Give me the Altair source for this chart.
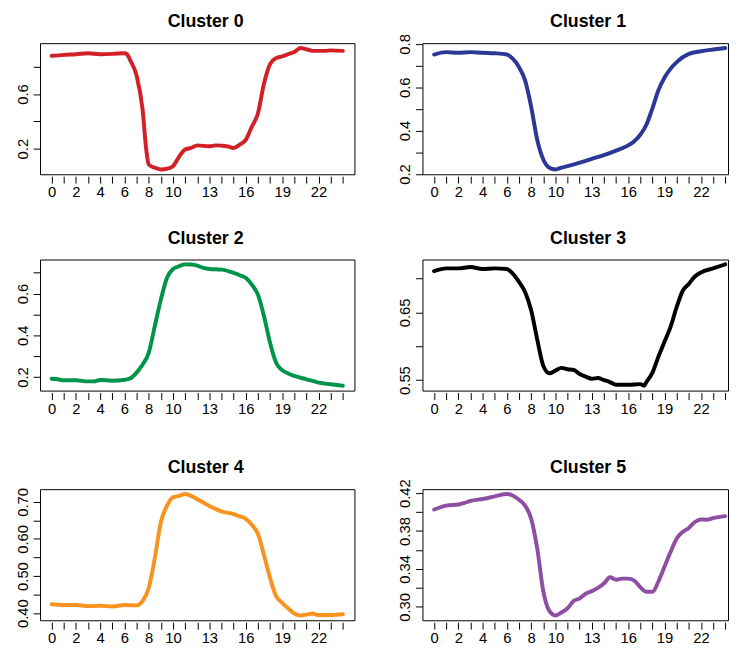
import altair as alt
import pandas as pd

titles = ["Cluster 0", "Cluster 1", "Cluster 2", "Cluster 3", "Cluster 4", "Cluster 5"]
colors = ["#D22027", "#2B3895", "#00934A", "#000000", "#F7931E", "#8E4FA3"]

c0_hours = [0, 1, 2, 3, 4, 5, 6, 6.2, 6.5, 7, 7.5, 7.8, 8, 8.5, 9, 9.5, 10, 10.5, 11, 11.5, 12,
            13, 13.5, 14, 14.5, 15, 15.5, 16, 16.5, 17, 17.5, 18, 18.5, 19, 19.5, 20,
            20.5, 21, 21.5, 22, 22.5, 23, 24]
c0_vals = [0.880, 0.887, 0.892, 0.899, 0.892, 0.894, 0.899, 0.892, 0.843, 0.735, 0.482, 0.19,
           0.084, 0.06, 0.048, 0.053, 0.072, 0.140, 0.193, 0.205, 0.224,
           0.217, 0.224, 0.222, 0.217, 0.205, 0.229, 0.265, 0.361, 0.458, 0.675, 0.819, 0.863,
           0.875, 0.892, 0.908, 0.937, 0.928, 0.916, 0.916, 0.916, 0.920, 0.916]

c1_hours = [0, 1, 2, 3, 4, 5, 6, 6.5, 7, 7.5, 8, 8.5, 9, 9.5, 10, 10.5, 11, 12, 13, 14, 15, 16,
            16.5, 17, 17.5, 18, 18.5, 19, 19.5, 20, 21, 22, 23, 24]
c1_vals = [0.751, 0.762, 0.759, 0.762, 0.759, 0.757, 0.751, 0.731, 0.693, 0.632, 0.511, 0.358,
           0.267, 0.229, 0.221, 0.229, 0.236, 0.252, 0.270, 0.287, 0.308, 0.332,
           0.351, 0.381, 0.427, 0.503, 0.587, 0.645, 0.686, 0.716, 0.754, 0.766, 0.774, 0.781]

c2_hours = [0, 0.5, 1, 2, 3, 3.5, 4, 5, 6, 6.5, 7, 7.5, 8, 8.5, 9, 9.5, 10, 10.5, 11, 11.5, 12,
            12.5, 13, 14, 15, 15.5, 16, 16.5, 17, 17.5, 18, 18.5, 19, 19.5, 20, 21, 22, 23, 24]
c2_vals = [0.192, 0.189, 0.184, 0.184, 0.179, 0.179, 0.186, 0.182, 0.186, 0.194, 0.221, 0.260,
           0.316, 0.444, 0.571, 0.675, 0.718, 0.731, 0.740, 0.739, 0.734, 0.723, 0.718,
           0.715, 0.699, 0.688, 0.675, 0.643, 0.595, 0.492, 0.364, 0.268, 0.233, 0.217, 0.205,
           0.189, 0.173, 0.165, 0.158]

c3_hours = [0, 1, 2, 3, 4, 5, 6, 6.5, 7, 7.5, 8, 8.5, 9, 9.5, 10, 10.5, 11, 11.5, 12, 12.5, 13,
            13.5, 14, 14.5, 15, 16, 17, 17.3, 17.5, 18, 18.5, 19, 19.5, 20, 20.5, 21, 21.5, 22,
            23, 24]
c3_vals = [0.711, 0.715, 0.715, 0.717, 0.714, 0.715, 0.714, 0.707, 0.695, 0.680, 0.653, 0.610,
           0.571, 0.560, 0.564, 0.568, 0.566, 0.565, 0.559, 0.555, 0.552, 0.553, 0.550, 0.547,
           0.543, 0.543, 0.544, 0.5416, 0.547, 0.561, 0.585, 0.607, 0.629, 0.658, 0.682, 0.692,
           0.703, 0.709, 0.715, 0.7209]

c4_hours = [0, 1, 2, 3, 4, 5, 6, 7, 7.5, 8, 8.5, 9, 9.5, 10, 10.5, 11, 11.5, 12, 12.5, 13, 13.5,
            14, 15, 15.5, 16, 16.5, 17, 17.5, 18, 18.5, 19, 19.5, 20, 20.5, 21, 21.5, 22, 23, 24]
c4_vals = [0.424, 0.422, 0.422, 0.419, 0.420, 0.418, 0.422, 0.421, 0.433, 0.468, 0.548, 0.645,
           0.689, 0.712, 0.716, 0.721, 0.716, 0.707, 0.698, 0.689, 0.681, 0.674, 0.667, 0.661,
           0.654, 0.638, 0.614, 0.557, 0.495, 0.446, 0.428, 0.413, 0.399, 0.394, 0.396, 0.399,
           0.395, 0.395, 0.397]

c5_hours = [0, 0.5, 1, 2, 2.5, 3, 4, 5, 6, 6.5, 7, 7.5, 8, 8.5, 9, 9.5, 10, 10.5, 11, 11.5, 12,
            12.5, 13, 13.5, 14, 14.5, 15, 15.5, 16, 16.5, 17, 17.5, 18, 18.5, 19, 19.5, 20, 20.5,
            21, 21.5, 22, 22.5, 23, 24]
c5_vals = [0.4027, 0.405, 0.4068, 0.408, 0.4096, 0.4117, 0.4138, 0.4165, 0.419, 0.4172, 0.413,
           0.4068, 0.393, 0.3617, 0.3166, 0.2958, 0.291, 0.294, 0.2986, 0.3062, 0.309, 0.3138,
           0.3166, 0.320, 0.3246, 0.3312, 0.3287, 0.3298, 0.3298, 0.3277, 0.3208, 0.3159, 0.3159,
           0.327, 0.3426, 0.3582, 0.3721, 0.379, 0.3832, 0.3895, 0.3922, 0.3919, 0.3936, 0.3957]

all_hours = [c0_hours, c1_hours, c2_hours, c3_hours, c4_hours, c5_hours]
all_vals = [c0_vals, c1_vals, c2_vals, c3_vals, c4_vals, c5_vals]

y_ticks = [
    [0.2, 0.4, 0.6, 0.8],
    [0.2, 0.3, 0.4, 0.5, 0.6, 0.7, 0.8],
    [0.2, 0.3, 0.4, 0.5, 0.6, 0.7],
    [0.55, 0.60, 0.65, 0.70],
    [0.40, 0.45, 0.50, 0.55, 0.60, 0.65, 0.70],
    [0.30, 0.32, 0.34, 0.36, 0.38, 0.40, 0.42],
]
y_labels = [
    ["0.2", "0.6"],
    ["0.2", "0.4", "0.6", "0.8"],
    ["0.2", "0.4", "0.6"],
    ["0.55", "0.65"],
    ["0.40", "0.50", "0.60", "0.70"],
    ["0.30", "0.34", "0.38", "0.42"],
]
y_formats = [".1f", ".1f", ".1f", ".2f", ".2f", ".2f"]

x_ticks = list(range(0, 25))
x_labels = [0, 2, 4, 6, 8, 10, 13, 16, 19, 22]

FONT = "Liberation Sans"
H = 133
# left column: full box; right column: box cut at the page edge as in the reference
widths = [319, 310]
x_domains = [[-0.96, 24.96], [-0.96, 24.23]]


def panel(i):
    col = i % 2
    df = pd.DataFrame({"hour": all_hours[i], "value": all_vals[i]})
    lo, hi = min(all_vals[i]), max(all_vals[i])
    r = hi - lo
    ydom = [lo - 0.04 * r, hi + 0.04 * r]
    lab_list = "[" + ",".join("'" + s + "'" for s in y_labels[i]) + "]"
    fmt = y_formats[i]
    y_expr = (f"indexof({lab_list}, format(datum.value, '{fmt}')) >= 0 ? "
              f"format(datum.value, '{fmt}') : ''")
    x_expr = ("indexof([" + ",".join(str(v) for v in x_labels) + "], datum.value) >= 0 ? "
              "datum.label : ''")
    line = alt.Chart(df).mark_line(
        color=colors[i], strokeWidth=4, strokeCap="round", strokeJoin="round", clip=True,
        interpolate="monotone"
    ).encode(
        x=alt.X("hour:Q",
                scale=alt.Scale(domain=x_domains[col], nice=False, zero=False),
                axis=alt.Axis(values=x_ticks, labelExpr=x_expr, title=None, domain=False,
                              grid=False, offset=2, tickSize=7, labelPadding=2,
                              labelFlush=False, labelOverlap=False,
                              tickColor="black", tickWidth=1,
                              labelFont=FONT, labelFontSize=15, labelColor="black")),
        y=alt.Y("value:Q",
                scale=alt.Scale(domain=ydom, nice=False, zero=False),
                axis=alt.Axis(values=y_ticks[i], labelExpr=y_expr, title=None, domain=False,
                              grid=False, tickSize=7, labelPadding=3, labelAngle=270,
                              labelAlign="center", labelBaseline="bottom",
                              labelFlush=False, labelOverlap=False,
                              tickColor="black", tickWidth=1,
                              labelFont=FONT, labelFontSize=15, labelColor="black")),
    )
    title = alt.Chart(pd.DataFrame({"t": [titles[i]]})).mark_text(
        font=FONT, fontSize=18, fontWeight="bold", baseline="alphabetic", align="center",
        color="black"
    ).encode(text="t:N", x=alt.value(168), y=alt.value(-16))
    return alt.layer(line, title).properties(width=widths[col], height=H)


row1 = alt.hconcat(panel(0), panel(1), spacing=69, bounds="flush")
row2 = alt.hconcat(panel(2), panel(3), spacing=69, bounds="flush")
row3 = alt.hconcat(panel(4), panel(5), spacing=69, bounds="flush")
top = alt.vconcat(row1, row2, spacing=28.5)
chart = alt.vconcat(top, row3, spacing=42.5).properties(
    padding={"left": 6.5, "top": 0, "right": 0, "bottom": 0},
    background="white",
).configure_view(
    stroke="black", strokeWidth=1
)

chart.save("out.html", embed_options={"renderer": "svg", "actions": False})
